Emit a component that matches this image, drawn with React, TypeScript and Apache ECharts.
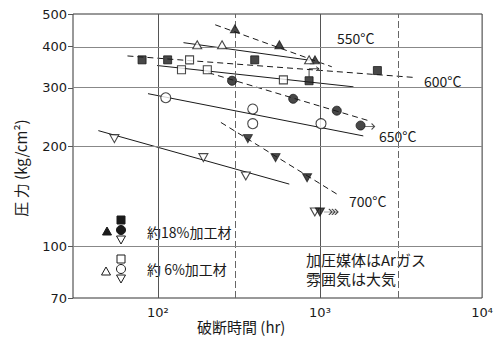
import React, { useEffect, useRef } from "react";
import * as echarts from "echarts";

// Rupture time (hr), pressure (kg/cm²)
const pts550Filled = [[299, 451], [562, 404], [932, 364]];
const pts550Open = [[175, 404], [249, 404], [857, 364]];
const pts600Filled = [[80, 364], [115, 364], [396, 364], [2260, 338]];
const pts600Open = [[157, 364], [140, 340], [202, 340], [595, 317]];
const pts650Filled = [[287, 315], [684, 278], [1270, 256]];
const pts650Open = [[112, 280], [385, 259], [385, 234], [1015, 234]];
const pts700Filled = [[359, 211], [532, 185], [833, 161]];
const pts700Open = [[54, 211], [191, 185], [349, 163], [930, 127]];
// unbroken specimens (arrow marks)
const runout600Filled = [[857, 315]];
const runout650Filled = [[1780, 231]];
const runout700Filled = [[1000, 127]];

// fitted lines (end points)
const line550Filled = [[226, 464], [1183, 347]];
const line550Open = [[144, 410], [870, 363]];
const line600Filled = [[65, 374], [3900, 322]];
const line600Open = [[99, 350], [1610, 302]];
const line650Filled = [[205, 333], [1990, 239]];
const line650Open = [[87, 288], [1850, 215]];
const line700Filled = [[245, 236], [1324, 142]];
const line700Open = [[43, 223], [647, 154]];

const xMin = 30;
const xMax = 10000;
const yMin = 70;
const yMax = 500;
const xTicks = [100, 1000, 10000];
const xTickLabels = ["10²", "10³", "10⁴"];
const yTicks = [70, 100, 200, 300, 400, 500];
const xGridSolid = [100, 1000];
const xGridDashed = [300, 3000];
const yGrid = [100, 200, 300, 400];

const tempLabels = ["550°C", "600°C", "650°C", "700°C"];
const legendTexts = ["約18%加工材", "約 6%加工材"];
const noteTexts = ["加圧媒体はArガス", "雰囲気は大気"];
const xTitle = "破断時間 (hr)";
const yTitle = "圧 力 (kg/cm²)";

const lg = (v: number) => Math.log10(v);
const toLog = (pts: number[][]) => pts.map(([x, y]) => [lg(x), lg(y)]);

const INK = "#1a1a1a";
const CJK = "'Noto Sans CJK JP', 'Noto Sans', sans-serif";
const NUM = "'DejaVu Sans', sans-serif";

function scatter(name: string, pts: number[][], symbol: string, filled: boolean, size: any, rotate = 0) {
  return {
    name,
    type: "scatter",
    data: toLog(pts),
    symbol,
    symbolSize: size,
    symbolRotate: rotate,
    z: 5,
    itemStyle: filled
      ? { color: INK, borderColor: INK, borderWidth: 1 }
      : { color: "#fff", borderColor: INK, borderWidth: 1.1 },
  };
}

function fitLine(name: string, pts: number[][], dashed: boolean) {
  return {
    name,
    type: "line",
    data: toLog(pts),
    symbol: "none",
    z: 3,
    lineStyle: { color: INK, width: 1, type: dashed ? [6, 4] : "solid" },
  };
}

function arrow(name: string, pts: number[][], path: string, size: number[], offset: number[]) {
  return {
    name,
    type: "scatter",
    data: toLog(pts),
    symbol: path,
    symbolSize: size,
    symbolOffset: offset,
    z: 6,
    itemStyle: { color: "transparent", borderColor: INK, borderWidth: 1 },
  };
}

export default function App() {
  const ref = useRef<HTMLDivElement>(null);
  useEffect(() => {
    if (!ref.current) return;
    const chart = echarts.init(ref.current, undefined, { renderer: "svg" });

    const gridLines: any[] = [
      ...xGridSolid.map((v) => ({ xAxis: lg(v), lineStyle: { color: "#555", width: 1, type: "solid" } })),
      ...xGridDashed.map((v) => ({ xAxis: lg(v), lineStyle: { color: "#666", width: 1, type: [7, 3] } })),
      ...yGrid.map((v) => ({ yAxis: lg(v), lineStyle: { color: "#888", width: 1, type: "solid" } })),
    ];

    const tri = (cx: number, cy: number, down: boolean, filled: boolean) => ({
      type: "polygon",
      shape: {
        points: down
          ? [[cx - 4.5, cy - 4], [cx + 4.5, cy - 4], [cx, cy + 4]]
          : [[cx, cy - 4], [cx + 4.5, cy + 4], [cx - 4.5, cy + 4]],
      },
      style: { fill: filled ? INK : "#fff", stroke: INK, lineWidth: 1 },
    });
    const sq = (cx: number, cy: number, filled: boolean) => ({
      type: "rect",
      shape: { x: cx - 4, y: cy - 4, width: 8, height: 8 },
      style: { fill: filled ? INK : "#fff", stroke: INK, lineWidth: 1 },
    });
    const circ = (cx: number, cy: number, filled: boolean) => ({
      type: "circle",
      shape: { cx, cy, r: 4.5 },
      style: { fill: filled ? INK : "#fff", stroke: INK, lineWidth: 1 },
    });
    const txt = (text: string, x: number, y: number, size: number, family = CJK, align = "left") => ({
      type: "text",
      x,
      y,
      style: { text, fontSize: size, fontFamily: family, fill: INK, align, verticalAlign: "middle" },
    });

    const option: any = {
      animation: false,
      backgroundColor: "#fff",
      grid: { left: 73, top: 14, right: 7, bottom: 41, show: true, borderColor: "#333", borderWidth: 1 },
      xAxis: {
        type: "value",
        min: lg(xMin),
        max: lg(xMax),
        splitLine: { show: false },
        axisLine: { show: false },
        axisTick: { show: false },
        axisLabel: {
          customValues: xTicks.map(lg),
          formatter: (v: number) => {
            const i = xTicks.findIndex((t) => Math.abs(lg(t) - v) < 1e-6);
            return i >= 0 ? xTickLabels[i] : "";
          },
          fontSize: 13,
          fontFamily: NUM,
          color: INK,
          margin: 8,
        },
      },
      yAxis: {
        type: "value",
        min: lg(yMin),
        max: lg(yMax),
        splitLine: { show: false },
        axisLine: { show: false },
        axisTick: { show: true, customValues: yTicks.map(lg), length: 5, lineStyle: { color: "#555" } },
        axisLabel: {
          customValues: yTicks.map(lg),
          formatter: (v: number) => String(Math.round(Math.pow(10, v))),
          fontSize: 13,
          fontFamily: NUM,
          color: INK,
          margin: 6,
        },
      },
      series: [
        {
          name: "grid",
          type: "line",
          data: [],
          z: 1,
          markLine: { silent: true, symbol: ["none", "none"], label: { show: false }, data: gridLines },
        },
        fitLine("550F", line550Filled, true),
        fitLine("550O", line550Open, false),
        fitLine("600F", line600Filled, true),
        fitLine("600O", line600Open, false),
        fitLine("650F", line650Filled, true),
        fitLine("650O", line650Open, false),
        fitLine("700F", line700Filled, true),
        fitLine("700O", line700Open, false),
        scatter("550 18%", pts550Filled, "triangle", true, [9, 8]),
        scatter("550 6%", pts550Open, "triangle", false, [9, 8]),
        scatter("600 18%", pts600Filled, "rect", true, 8),
        scatter("600 18% r", runout600Filled, "rect", true, 8),
        scatter("600 6%", pts600Open, "rect", false, 8),
        scatter("650 18%", pts650Filled, "circle", true, 9),
        scatter("650 18% r", runout650Filled, "circle", true, 9),
        scatter("650 6%", pts650Open, "circle", false, 10),
        scatter("700 6%", pts700Open, "triangle", false, [9, 8], 180),
        scatter("700 18%", pts700Filled, "triangle", true, [9, 8], 180),
        scatter("700 18% r", runout700Filled, "triangle", true, [9, 8], 180),
        arrow("a600", runout600Filled, "path://M0,10 L0,2 L10,2 M7,0 L10,2 L7,4", [10, 10], [5, -9]),
        arrow("a650", runout650Filled, "path://M0,3 L10,3 M7,0 L10,3 L7,6", [10, 6], [9, 1]),
        arrow(
          "a700",
          runout700Filled,
          "path://M0,3 L14,3 M5,0 L8,3 L5,6 M8,0 L11,3 L8,6 M11,0 L14,3 L11,6",
          [14, 6],
          [11, 0]
        ),
      ],
      graphic: [
        txt(tempLabels[0], 337, 38, 14),
        txt(tempLabels[1], 424, 81, 14),
        txt(tempLabels[2], 379, 136, 14),
        txt(tempLabels[3], 349, 201, 14),
        tri(107, 231, false, true),
        sq(121, 220, true),
        circ(121, 230, true),
        tri(121, 240, true, false),
        tri(106, 271, false, false),
        sq(121, 259, false),
        circ(121, 269, false),
        tri(121, 279, true, false),
        txt(legendTexts[0], 147, 232, 14),
        txt(legendTexts[1], 147, 269, 14),
        txt(noteTexts[0], 306, 259, 15),
        txt(noteTexts[1], 306, 278, 15),
        txt(xTitle, 197, 326, 15),
        {
          type: "text",
          x: 20,
          y: 168,
          rotation: Math.PI / 2,
          style: { text: yTitle, fontSize: 15, fontFamily: CJK, fill: INK, align: "center", verticalAlign: "middle" },
        },
      ],
    };
    chart.setOption(option);
    return () => chart.dispose();
  }, []);
  return <div ref={ref} style={{ position: "fixed", left: 0, top: 0, width: 496, height: 339 }} />;
}
